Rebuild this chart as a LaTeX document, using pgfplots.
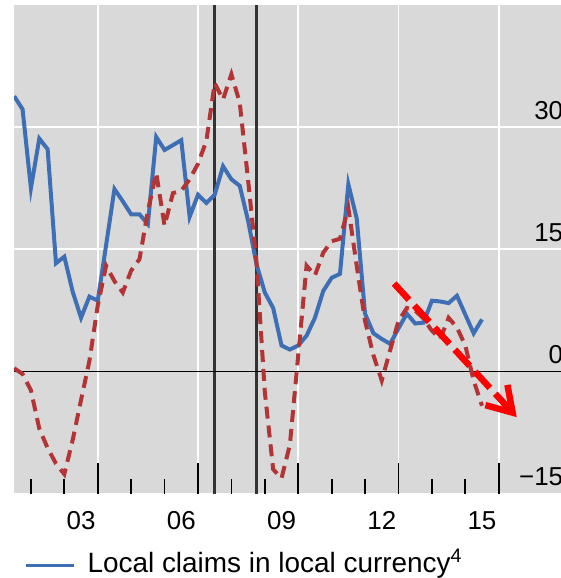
\documentclass[border=0pt]{standalone}
\usepackage{fontspec}
\setmainfont{Liberation Sans}
\usepackage{pgfplots}
\pgfplotsset{compat=1.18}
\usetikzlibrary{arrows.meta}
\definecolor{bg}{RGB}{217,217,217}
\definecolor{cblue}{RGB}{62,110,180}
\definecolor{cred}{RGB}{178,52,52}
\begin{document}
\begin{tikzpicture}
\useasboundingbox (-7.125pt,-42.25pt) rectangle (273.875pt,247.5pt);
\begin{axis}[
  at={(0,0)}, anchor=south west,
  scale only axis, width=276.375pt, height=245pt,
  xmin=2001.5, xmax=2018, ymin=-15, ymax=45,
  axis background/.style={fill=bg},
  axis line style={draw=none},
  xtick={2003.5,2006.5,2009.5,2012.5,2015.5},
  xticklabels={03,06,09,12,15},
  major tick length=0pt,
  extra x ticks={2004,2007,2010,2013,2016},
  extra x tick labels={},
  extra x tick style={grid=major, major tick length=15.5pt},
  minor xtick={2002,2003,2005,2006,2008,2009,2011,2012,2014,2015},
  minor tick length=7.5pt,
  xtick pos=lower,
  tick align=inside,
  tick style={black, line width=0.9pt},
  ytick={-15,0,15,30},
  yticklabels={−15,0,15,30},
  ymajorgrids,
  major grid style={white, line width=0.9pt},
  yticklabel pos=right,
  xticklabel style={anchor=base, yshift=-17.75pt, font=\fontsize{13}{15}\selectfont},
  yticklabel style={anchor=base east, inner sep=0pt, xshift=-1pt, yshift=4pt, font=\fontsize{13}{15}\selectfont},
  legend style={at={(axis description cs:0,0)}, anchor=north west, xshift=4.8pt, yshift=-25.5pt,
    draw=none, fill=none, inner sep=0pt, font=\fontsize{14}{16}\selectfont,
    /tikz/every odd column/.append style={column sep=4pt}},
  legend image code/.code={\draw[#1, line width=1.75pt] (0pt,-1.5pt) -- (24pt,-1.5pt);},
]
\addplot[black!80, line width=1.2pt, forget plot] coordinates {(2007.5,-15) (2007.5,45)};
\addplot[black!80, line width=1.2pt, forget plot] coordinates {(2008.75,-15) (2008.75,45)};
\addplot[black, line width=0.8pt, forget plot] coordinates {(2001.5,0) (2018,0)};
\addplot[cblue, line width=2pt] table {
x y
2001.5 33.8
2001.75 32.2
2002.0 22.5
2002.25 28.6
2002.5 27.3
2002.75 13.3
2003.0 14.1
2003.25 9.8
2003.5 6.6
2003.75 9.2
2004.0 8.7
2004.25 15.5
2004.5 22.4
2004.75 20.9
2005.0 19.3
2005.25 19.3
2005.5 18.1
2005.75 28.8
2006.0 27.2
2006.25 27.8
2006.5 28.4
2006.75 19.0
2007.0 21.7
2007.25 20.7
2007.5 21.7
2007.75 25.2
2008.0 23.6
2008.25 22.8
2008.5 18.5
2008.75 13.2
2009.0 9.7
2009.25 7.8
2009.5 3.2
2009.75 2.7
2010.0 3.2
2010.25 4.4
2010.5 6.6
2010.75 9.9
2011.0 11.5
2011.25 12.0
2011.5 23.0
2011.75 18.8
2012.0 7.1
2012.25 4.7
2012.5 4.0
2012.75 3.4
2013.0 5.3
2013.25 7.1
2013.5 5.9
2013.75 6.0
2014.0 8.7
2014.25 8.6
2014.5 8.4
2014.75 9.3
2015.0 7.0
2015.25 4.7
2015.5 6.4
};
\addlegendentry{Local claims in local currency\textsuperscript{4}}
\addplot[cred, line width=2pt, dash pattern=on 6pt off 3.5pt, forget plot] table {
x y
2001.5 0.4
2001.75 -0.3
2002.0 -2.3
2002.25 -7.0
2002.5 -9.4
2002.75 -11.3
2003.0 -12.6
2003.25 -8.4
2003.5 -3.5
2003.75 1.3
2004.0 8.1
2004.25 13.0
2004.5 11.1
2004.75 9.7
2005.0 12.4
2005.25 13.8
2005.5 19.7
2005.75 24.4
2006.0 17.9
2006.25 21.9
2006.5 22.2
2006.75 23.6
2007.0 25.5
2007.25 28.3
2007.5 35.4
2007.75 33.4
2008.0 36.5
2008.25 33.0
2008.5 23.5
2008.75 13.5
2009.0 -2.5
2009.25 -12.0
2009.5 -13.1
2009.75 -9.0
2010.0 2.0
2010.25 13.0
2010.5 11.8
2010.75 14.6
2011.0 16.0
2011.25 16.3
2011.5 20.1
2011.75 13.0
2012.0 6.2
2012.25 2.0
2012.5 -1.1
2012.75 2.6
2013.0 6.2
2013.25 7.8
2013.5 7.5
2013.75 6.5
2014.0 5.0
2014.25 4.0
2014.5 6.6
2014.75 5.4
2015.0 3.2
2015.25 -1.1
2015.5 -4.2
};
\addplot[red, line width=3.25pt, dash pattern=on 11pt off 4pt, -{Straight Barb[length=12pt, width=15pt]}, forget plot]
  coordinates {(2012.87,10.8) (2016.54,-5.6)};
\end{axis}
\end{tikzpicture}
\end{document}
